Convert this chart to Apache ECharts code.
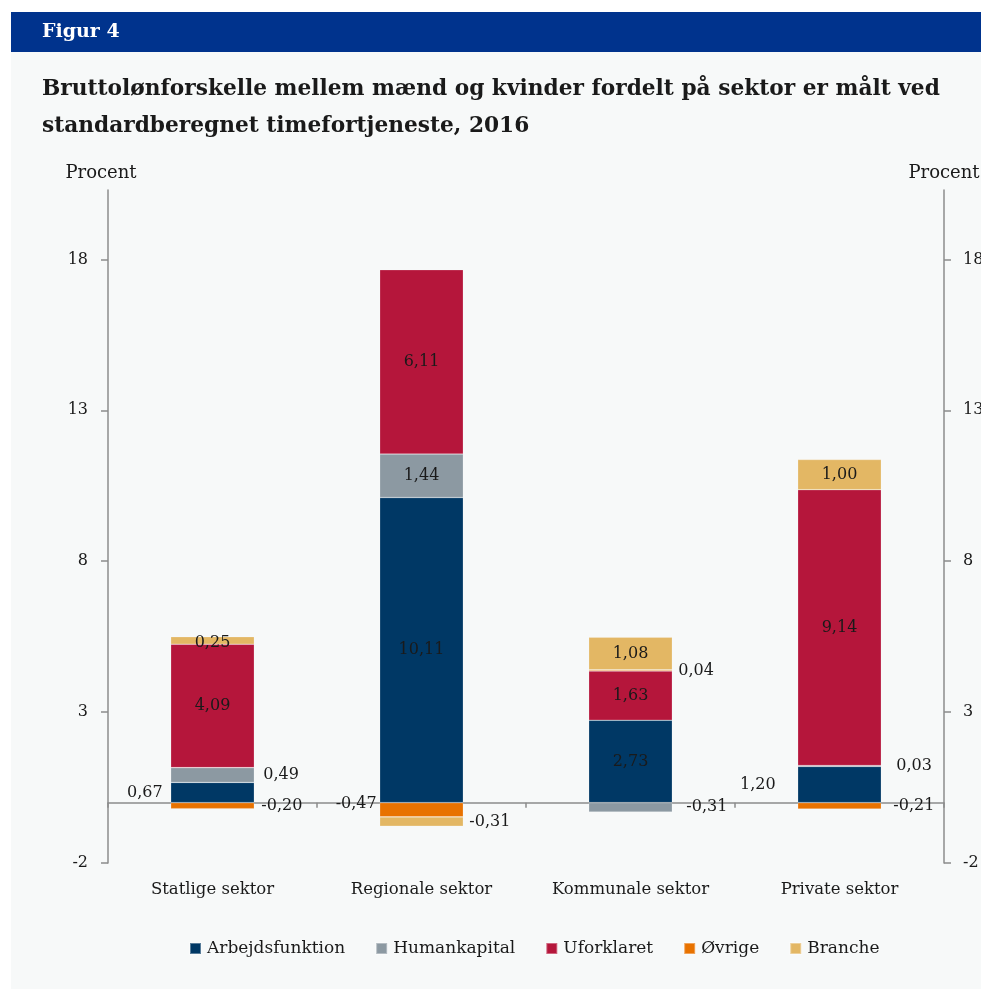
<!DOCTYPE html>
<html>
<head>
<meta charset="utf-8">
<script src="https://cdn.jsdelivr.net/npm/echarts@6/dist/echarts.min.js"></script>
<style>
html,body{margin:0;padding:0;background:#ffffff;}
#c{width:981px;height:989px;}
</style>
</head>
<body>
<div id="c"></div>
<script>
// ---- data ----
const categories = ['Statlige sektor', 'Regionale sektor', 'Kommunale sektor', 'Private sektor'];
const seriesNames = ['Arbejdsfunktion', 'Humankapital', 'Uforklaret', 'Øvrige', 'Branche'];
const arbejdsfunktion = [0.67, 10.11, 2.73, 1.20];
const humankapital = [0.49, 1.44, -0.31, 0.03];
const uforklaret = [4.09, 6.11, 1.63, 9.14];
const oevrige = [-0.20, -0.47, 0.04, -0.21];
const branche = [0.25, -0.31, 1.08, 1.00];
const yTicks = [-2, 3, 8, 13, 18];

// ---- label placement (style) ----
const labelPos = [
  ['left', 'inside', 'inside', 'left'],
  ['right', 'inside', 'right', 'right'],
  ['inside', 'inside', 'inside', 'inside'],
  ['right', 'left', 'right', 'right'],
  ['inside', 'right', 'inside', 'inside']
];
const labelDist = [
  [8, 5, 5, 22],
  [9, 5, 14, 15],
  [5, 5, 5, 5],
  [7, 3, 6, 12],
  [5, 6, 5, 5]
];
const labelOffsetY = [
  [0, 0, 0, 0],
  [0, 0, 0, 0],
  [0, 0, 0, 0],
  [0, -6, 0, 0],
  [2, 0, 0, 0]
];
const colors = ['#003865', '#8c99a2', '#b5163b', '#e87200', '#e3b764'];
const values = [arbejdsfunktion, humankapital, uforklaret, oevrige, branche];

const FONT = 'DejaVu Serif';
const fmt = v => v.toFixed(2).replace('.', ',');

const series = seriesNames.map((name, si) => ({
  name: name,
  type: 'bar',
  stack: 'total',
  barWidth: '40%',
  xAxisIndex: 0,
  itemStyle: { color: colors[si], borderColor: 'rgba(255,255,255,0.35)', borderWidth: 0.6 },
  data: values[si].map((v, ci) => ({
    value: v,
    label: {
      show: true,
      position: labelPos[si][ci],
      distance: labelDist[si][ci],
      offset: [0, labelOffsetY[si][ci]],
      formatter: p => fmt(p.value),
      fontFamily: FONT,
      fontSize: 16,
      color: '#1a1a1a'
    }
  }))
}));

const chart = echarts.init(document.getElementById('c'), null, { renderer: 'canvas' });
chart.setOption({
  animation: false,
  backgroundColor: '#ffffff',
  graphic: [
    { type: 'rect', left: 11, top: 52, shape: { width: 970, height: 937 }, style: { fill: '#f7f9f9' }, z: -10 },
    { type: 'rect', left: 11, top: 12, shape: { width: 970, height: 40 }, style: { fill: '#00338d' }, z: -10 },
    { type: 'text', left: 42, top: 23, style: { text: 'Figur 4', fill: '#ffffff', font: 'bold 19px "DejaVu Serif"' } },
    { type: 'text', left: 42, top: 71, style: { text: 'Bruttolønforskelle mellem mænd og kvinder fordelt på sektor er målt ved\nstandardberegnet timefortjeneste, 2016', fill: '#1a1a1a', font: 'bold 21.7px "DejaVu Serif"', lineHeight: 37 } }
  ],
  grid: { left: 108, right: 37, top: 190, bottom: 126, containLabel: false, outerBoundsMode: 'none' },
  legend: {
    left: 189, top: 940, padding: 0,
    itemWidth: 11, itemHeight: 11, itemGap: 30,
    icon: 'rect',
    textStyle: { fontFamily: FONT, fontSize: 17, color: '#1a1a1a', padding: [0, 0, 0, 1] },
    data: seriesNames
  },
  xAxis: [
    {
      type: 'category', data: categories, position: 'bottom',
      axisLine: { show: false, onZero: false }, axisTick: { show: false },
      axisLabel: { fontFamily: FONT, fontSize: 16.5, color: '#1a1a1a', margin: 18 }
    },
    {
      type: 'category', data: categories, position: 'bottom',
      axisLine: { show: true, onZero: true, lineStyle: { color: '#8c8c8c', width: 1.5 } },
      axisTick: { show: true, alignWithLabel: false, length: 5, lineStyle: { color: '#8c8c8c', width: 1.5 } },
      axisLabel: { show: false }
    }
  ],
  yAxis: [
    {
      type: 'value', min: -2, max: 20.3, interval: 5, position: 'left',
      name: 'Procent', nameLocation: 'end', nameGap: 8,
      nameTextStyle: { fontFamily: FONT, fontSize: 18, color: '#1a1a1a', padding: [0, 14, 0, 0] },
      axisLine: { show: true, lineStyle: { color: '#8c8c8c', width: 1.5 } },
      axisTick: { show: true, length: 7, customValues: yTicks, lineStyle: { color: '#8c8c8c', width: 1.5 } },
      axisLabel: { customValues: yTicks, fontFamily: FONT, fontSize: 16, color: '#1a1a1a', margin: 20 },
      splitLine: { show: false }
    },
    {
      type: 'value', min: -2, max: 20.3, interval: 5, position: 'right',
      name: 'Procent', nameLocation: 'end', nameGap: 8,
      nameTextStyle: { fontFamily: FONT, fontSize: 18, color: '#1a1a1a' },
      axisLine: { show: true, lineStyle: { color: '#8c8c8c', width: 1.5 } },
      axisTick: { show: true, length: 7, customValues: yTicks, lineStyle: { color: '#8c8c8c', width: 1.5 } },
      axisLabel: { customValues: yTicks, fontFamily: FONT, fontSize: 16, color: '#1a1a1a', margin: 19 },
      splitLine: { show: false }
    }
  ],
  series: series
});
</script>
</body>
</html>
